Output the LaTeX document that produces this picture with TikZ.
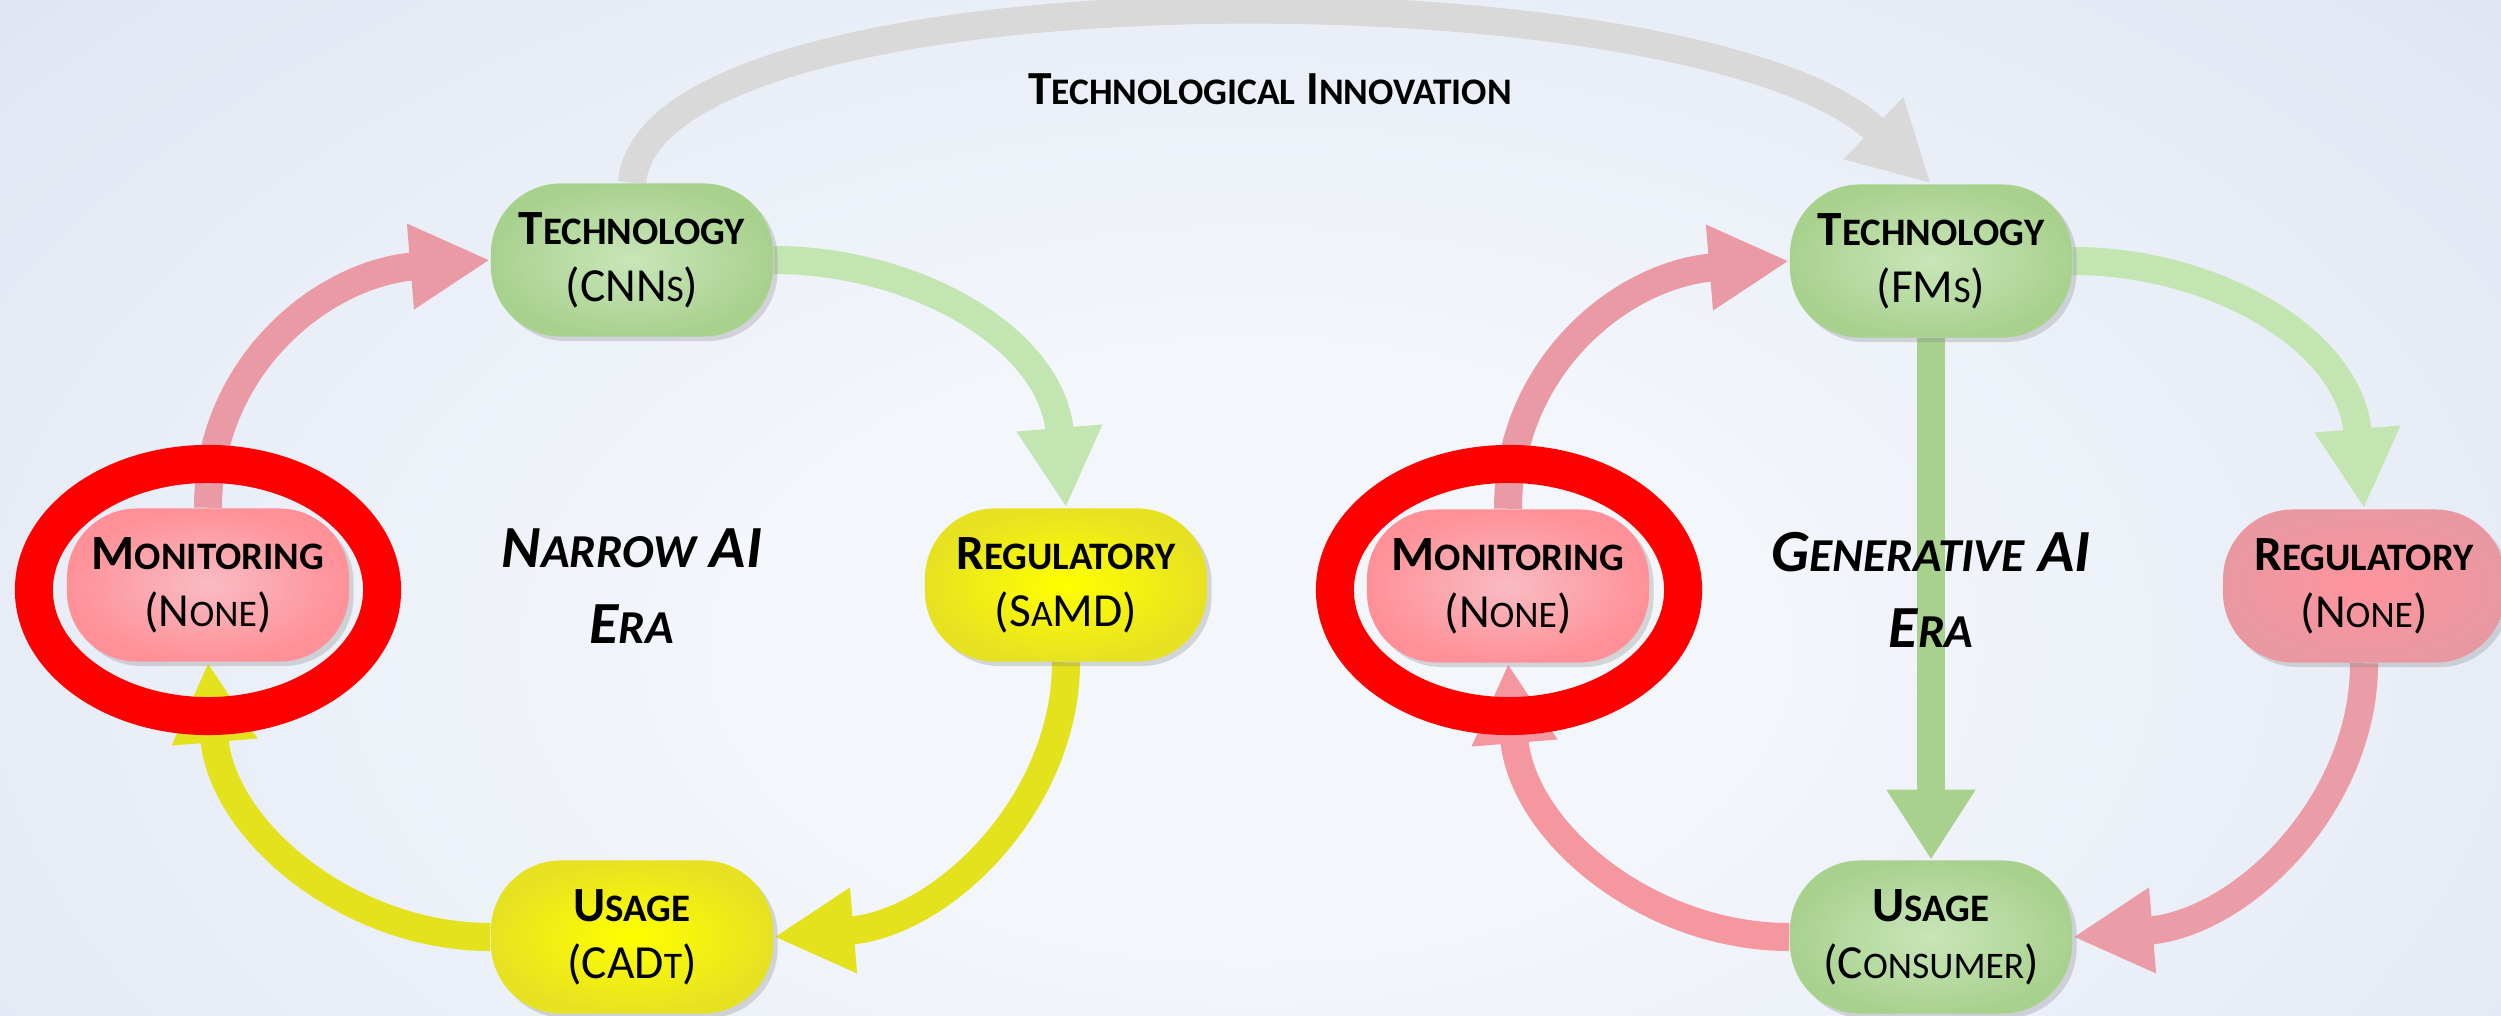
\documentclass[tikz,border=0pt]{standalone}
\usepackage{fontspec}
\usepackage{graphicx}
\setmainfont{Carlito}
\usetikzlibrary{arrows.meta,shadows}
\definecolor{bgin}{HTML}{F3F6FB}
\definecolor{bgmid}{HTML}{E0E7F3}
\definecolor{bgout}{HTML}{CCD8EB}
\definecolor{gin}{HTML}{C8E6B9}
\definecolor{gout}{HTML}{A9D18E}
\definecolor{yin}{HTML}{FFFF00}
\definecolor{yout}{HTML}{E6E222}
\definecolor{min}{HTML}{F8BCC2}
\definecolor{mout}{HTML}{FF9098}
\definecolor{rin}{HTML}{FF949C}
\definecolor{rout}{HTML}{E998A1}
\definecolor{pinkA}{HTML}{EA9AA5}
\definecolor{greenA}{HTML}{C3E5B2}
\definecolor{yellowA}{HTML}{E4E11D}
\definecolor{pinkB}{HTML}{EA9DA6}
\definecolor{pinkC}{HTML}{F5979E}
\definecolor{greenV}{HTML}{A9D18E}
\definecolor{grayA}{HTML}{D9D9D9}
\definecolor{ringred}{HTML}{FF0000}
\pgfdeclareradialshading{bgshade}{\pgfpoint{0bp}{0bp}}{color(0bp)=(bgin); color(10bp)=(bgin); color(32bp)=(bgmid); color(56bp)=(bgout); color(72bp)=(bgout)}
\pgfdeclarelayer{back}
\pgfdeclarelayer{arrows}
\pgfdeclarelayer{front}
\pgfsetlayers{back,arrows,main,front}
\newcommand\lc[1]{\scalebox{0.79}{#1}}
\newcommand\subl[1]{{\mdseries\fontsize{13.5}{16.2}\selectfont #1}}
\tikzset{
  x=0.01cm, y=-0.01cm,
  box/.style={rounded corners=0.7cm, minimum width=2.82cm, minimum height=1.53cm,
    inner sep=0pt, align=center, font=\fontsize{14}{16.2}\selectfont\bfseries,
    drop shadow={opacity=0.28, shadow xshift=0.45mm, shadow yshift=-0.45mm}},
  greenbox/.style={box, inner color=gin, outer color=gout},
  yellowbox/.style={box, inner color=yin, outer color=yout},
  monbox/.style={box, inner color=min, outer color=mout},
  regbox/.style={box, inner color=rin, outer color=rout},
  cyc/.style={line width=2.8mm, -{Triangle[length=8mm,width=8mm]}},
  grayarrow/.style={line width=2.8mm, color=grayA, -{Triangle[length=8mm,width=8mm]}},
  vertarrow/.style={line width=2.8mm, color=greenV, -{Triangle[length=7mm,width=8.4mm]}},
  ring/.style={draw=ringred, line width=3.8mm},
  eratext/.style={align=center, font=\fontsize{17}{21.6}\selectfont\bfseries\itshape},
  titletext/.style={font=\fontsize{13.5}{15}\selectfont\bfseries, anchor=base}
}
\begin{document}
\begin{tikzpicture}
\useasboundingbox (0,0) rectangle (2501,1016);
\clip (0,0) rectangle (2501,1016);
\begin{pgfonlayer}{back}
\shade[shading=bgshade] (-40,-100) rectangle (2541,1400);
\end{pgfonlayer}

% nodes
\node[greenbox] (T1) at (632,260) {T\lc{ECHNOLOGY}\\\subl{(CNN\lc{S})}};
\node[monbox] (M1) at (208,585) {M\lc{ONITORING}\\\subl{(N\lc{ONE})}};
\node[yellowbox] (R1) at (1066,585) {R\lc{EGULATORY}\\\subl{(S\lc{A}MD)}};
\node[yellowbox] (U1) at (632,937) {U\lc{SAGE}\\\subl{(CAD\lc{T})}};
\node[greenbox] (T2) at (1931,261) {T\lc{ECHNOLOGY}\\\subl{(FM\lc{S})}};
\node[monbox] (M2) at (1508,586) {M\lc{ONITORING}\\\subl{(N\lc{ONE})}};
\node[regbox] (R2) at (2364,586) {R\lc{EGULATORY}\\\subl{(N\lc{ONE})}};
\node[greenbox] (U2) at (1931,937) {U\lc{SAGE}\\\subl{(C\lc{ONSUMER})}};

\node[titletext] (inno) at (1270,105) {T\lc{ECHNOLOGICAL} I\lc{NNOVATION}};

\begin{pgfonlayer}{arrows}
% left cycle
\draw[cyc, color=pinkA] (M1.north) .. controls +(0,-140) and +(-170,14) .. (T1.west);
\draw[cyc, color=greenA] (T1.east) .. controls +(140,0) and +(-14,-170) .. (R1.north);
\draw[cyc, color=yellowA] (R1.south) .. controls +(0,140) and +(170,-14) .. (U1.east);
\draw[cyc, color=yellowA] (U1.west) .. controls +(-140,0) and +(14,170) .. (M1.south);
% right cycle
\draw[cyc, color=pinkA] (M2.north) .. controls +(0,-140) and +(-170,14) .. (T2.west);
\draw[cyc, color=greenA] (T2.east) .. controls +(140,0) and +(-14,-170) .. (R2.north);
\draw[cyc, color=pinkB] (R2.south) .. controls +(0,140) and +(170,-14) .. (U2.east);
\draw[cyc, color=pinkC] (U2.west) .. controls +(-140,0) and +(14,170) .. (M2.south);
\draw[vertarrow] (T2.south) -- (U2.north);
% innovation arc
\draw[grayarrow] (T1.north) .. controls +(18,-222) and +(-230,-222) .. (T2.north);
\end{pgfonlayer}

\node[eratext] (era1) at (632,586) {N\lc{ARROW} AI\\E\lc{RA}};
\node[eratext] (era2) at (1931,590) {G\lc{ENERATIVE} AI\\E\lc{RA}};

\begin{pgfonlayer}{front}
\draw[ring] (208,590) ellipse [x radius=1.74cm, y radius=1.26cm];
\draw[ring] (1509,590) ellipse [x radius=1.74cm, y radius=1.26cm];
\end{pgfonlayer}
\end{tikzpicture}
\end{document}
